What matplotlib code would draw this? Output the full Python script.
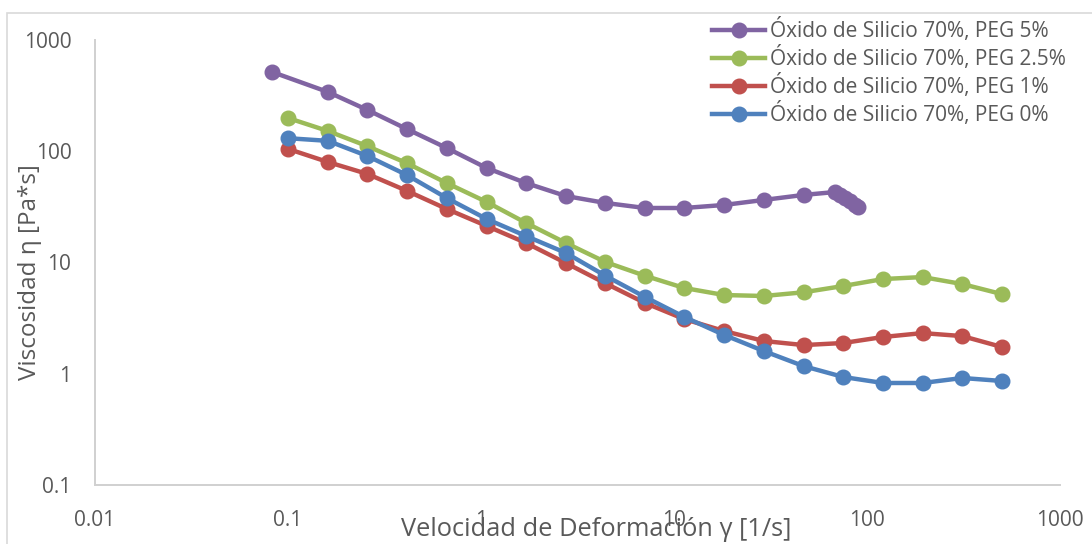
import numpy as np
import matplotlib
matplotlib.use("Agg")
from matplotlib import pyplot as plt
from matplotlib.patches import Rectangle
from matplotlib.ticker import FixedLocator, FixedFormatter

plt.rcParams['font.family'] = ['Open Sans', 'DejaVu Sans']

# shear rate [1/s]
x_rate = [0.1, 0.161, 0.258, 0.414, 0.664, 1.07, 1.71, 2.75, 4.41, 7.07,
          11.3, 18.2, 29.2, 47.0, 75.4, 121, 194, 312, 500]
x_peg5 = [0.083, 0.161, 0.258, 0.414, 0.664, 1.07, 1.71, 2.75, 4.41, 7.07,
          11.3, 18.2, 29.2, 47.0, 68.3, 72.5, 77, 82, 87, 90]

# viscosity [Pa*s]
peg5 = [515, 341, 235, 158, 107, 70.7, 51.8, 39.6, 34.3, 30.9,
        30.9, 32.9, 36.5, 40.5, 43, 40.5, 38, 35.5, 33, 31.5]
peg25 = [199, 152, 111, 78, 51.8, 35, 22.7, 15, 10.1, 7.6,
         5.9, 5.1, 5.0, 5.4, 6.15, 7.1, 7.4, 6.4, 5.2]
peg1 = [105, 80, 62.5, 44, 30.3, 21.3, 15, 9.9, 6.5, 4.33,
        3.1, 2.42, 1.97, 1.81, 1.89, 2.14, 2.32, 2.18, 1.74]
peg0 = [131, 124, 90.6, 61, 38, 24.6, 17.3, 12.2, 7.6, 4.9,
        3.24, 2.23, 1.60, 1.17, 0.935, 0.826, 0.826, 0.916, 0.861]

labels = ['Óxido de Silicio 70%, PEG 5%', 'Óxido de Silicio 70%, PEG 2.5%',
          'Óxido de Silicio 70%, PEG 1%', 'Óxido de Silicio 70%, PEG 0%']
colors = ['#8064A2', '#9BBB59', '#C0504D', '#4F81BD']
xticks = [0.01, 0.1, 1, 10, 100, 1000]
xtick_labels = ['0.01', '0.1', '1', '10', '100', '1000']
yticks = [0.1, 1, 10, 100, 1000]
ytick_labels = ['0.1', '1', '10', '100', '1000']

txt = '#595959'
fig = plt.figure(figsize=(10.92, 5.44), dpi=100)
ax = fig.add_axes([95/1092, 1-485/544, 965/1092, 445/544])

series = [(x_peg5, peg5), (x_rate, peg25), (x_rate, peg1), (x_rate, peg0)]
for (xs, ys), lab, c in zip(series, labels, colors):
    ax.plot(xs, ys, '-o', color=c, lw=3.2, ms=10.5, label=lab)

ax.set_xscale('log')
ax.set_yscale('log')
ax.set_xlim(0.01, 1000)
ax.set_ylim(0.1, 1000)
ax.xaxis.set_major_locator(FixedLocator(xticks))
ax.xaxis.set_major_formatter(FixedFormatter(xtick_labels))
ax.yaxis.set_major_locator(FixedLocator(yticks))
ax.yaxis.set_major_formatter(FixedFormatter(ytick_labels))
ax.minorticks_off()
ax.tick_params(length=0, labelsize=15, labelcolor=txt)
ax.tick_params(axis='y', pad=17)
ax.tick_params(axis='x', pad=18)

for s in ['top', 'right']:
    ax.spines[s].set_visible(False)
for s in ['left', 'bottom']:
    ax.spines[s].set_color('#d0d0d0')
    ax.spines[s].set_linewidth(1.4)

ax.set_xlabel('Velocidad de Deformación γ [1/s]', fontsize=18.3, color=txt)
ax.xaxis.set_label_coords(0.519, -0.101)
ax.xaxis.label.set_va('center')
ax.set_ylabel('Viscosidad η [Pa*s]', fontsize=17.5, color=txt)
ax.yaxis.set_label_coords(-0.067, 0.479)
ax.yaxis.label.set_va('center')

leg = ax.legend(loc='upper left', bbox_to_anchor=(712/1092, 1-18/544),
                bbox_transform=fig.transFigure, frameon=False, fontsize=15,
                borderpad=0, borderaxespad=0, handlelength=2.55,
                handletextpad=0.25, labelspacing=0.2)
for t in leg.get_texts():
    t.set_color(txt)

fig.patches.append(Rectangle((7/1092, -0.1), 1.2, 1.1 - 13/544, transform=fig.transFigure,
                             fill=False, edgecolor='#d9d9d9', lw=1.2, figure=fig))

fig.savefig('out.png', dpi=100)
